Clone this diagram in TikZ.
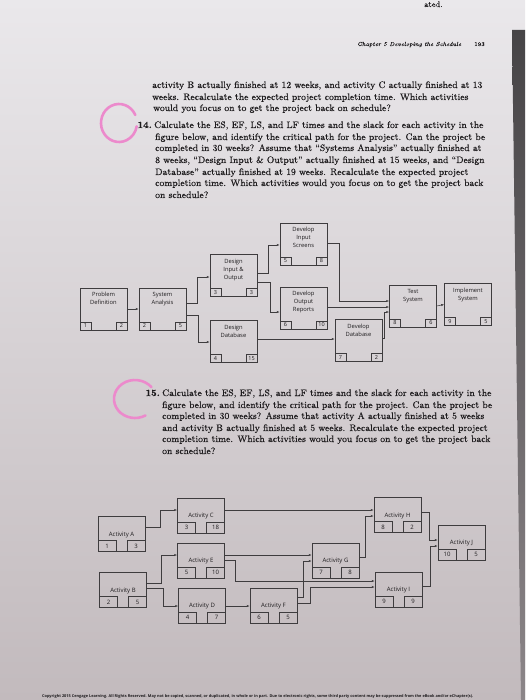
\documentclass[tikz,border=0pt]{standalone}
\usepackage{fontspec}
\usepackage{graphicx}
\usetikzlibrary{arrows.meta,positioning}
\newfontfamily\diagfont{Open Sans}
\newfontfamily\bookfont{Latin Modern Roman}[Ligatures=TeX, FakeBold=0.4]
\definecolor{paperTop}{RGB}{234,232,235}
\definecolor{paperBottom}{RGB}{194,186,189}
\definecolor{inkGray}{RGB}{30,28,30}
\definecolor{lineGray}{RGB}{62,60,62}
\definecolor{markPink}{RGB}{236,138,204}
\definecolor{barTop}{RGB}{70,68,70}
\definecolor{barBottom}{RGB}{140,134,137}
\newcommand{\bodyfont}{\bookfont\fontsize{9.4}{11}\selectfont}
\newcommand{\boxfont}{\diagfont\fontsize{5.8}{8}\selectfont}
\newcommand{\cellfont}{\diagfont\fontsize{5.5}{6}\selectfont}
\tikzset{
  textline/.style={anchor=base west, inner sep=0pt, font=\bodyfont, text=inkGray},
  itemno/.style={anchor=base east, inner sep=0pt, font=\bodyfont\bfseries, text=inkGray},
  wbsbox/.style={draw=lineGray, line width=0.5pt, minimum width=47pt, minimum height=42pt, inner sep=0pt},
  wbstext/.style={anchor=north, inner sep=0pt, align=center, font=\boxfont, text=inkGray},
  wbscell/.style={draw=lineGray, line width=0.5pt, minimum width=11pt, minimum height=8pt, inner sep=0pt, font=\cellfont, text=inkGray},
  actbox/.style={draw=lineGray, line width=0.5pt, minimum width=47pt, minimum height=35pt, inner sep=0pt},
  acttext/.style={inner sep=0pt, font=\diagfont\fontsize{6}{7}\selectfont, text=inkGray},
  actcell/.style={draw=lineGray, line width=0.5pt, minimum width=18pt, minimum height=11pt, inner sep=0pt, font=\diagfont\fontsize{6}{7}\selectfont, text=inkGray},
  link/.style={draw=lineGray, line width=0.5pt, -{Latex[length=3pt,width=2.2pt]}},
  pinkloop/.style={draw=markPink, line width=2.6pt, line cap=round}
}

\begin{document}
\begin{tikzpicture}[x=1pt, y=-1pt]
  \useasboundingbox (0,0) rectangle (525,700);
  % photographed page
  \shade[top color=paperTop, bottom color=paperBottom] (0,0) rectangle (525,700);
  \shade[top color=barTop, bottom color=barBottom] (512,30) -- (525,30) -- (525,700) -- (521,700) -- cycle;

  % running head and text
  \node[textline, font=\bookfont\fontsize{8}{9}\selectfont] (cut) at (424,7) {ated.};
  \node[textline, font=\bookfont\fontsize{5.8}{7}\selectfont\itshape] (head) at (357,46) {Chapter 5 Developing the Schedule};
  \node[textline, font=\bookfont\fontsize{5.8}{7}\selectfont] (page) at (474,46) {193};

  \node[textline] at (152,88) {activity B actually finished at 12 weeks, and activity C actually finished at 13};
  \node[textline] at (152,100) {weeks. Recalculate the expected project completion time. Which activities};
  \node[textline] at (153,111) {would you focus on to get the project back on schedule?};

  \node[itemno] (q14) at (152,128) {14.};
  \node[textline] at (154,128) {Calculate the ES, EF, LS, and LF times and the slack for each activity in the};
  \node[textline] at (155,140) {figure below, and identify the critical path for the project. Can the project be};
  \node[textline] at (155,151) {completed in 30 weeks? Assume that ``Systems Analysis'' actually finished at};
  \node[textline] at (155,163) {8 weeks, ``Design Input \& Output'' actually finished at 15 weeks, and ``Design};
  \node[textline] at (155,175) {Database'' actually finished at 19 weeks. Recalculate the expected project};
  \node[textline] at (155,186) {completion time. Which activities would you focus on to get the project back};
  \node[textline] at (155,198) {on schedule?};

  \node[itemno] (q15) at (160,396) {15.};
  \node[textline] at (162,396) {Calculate the ES, EF, LS, and LF times and the slack for each activity in the};
  \node[textline] at (162,408) {figure below, and identify the critical path for the project. Can the project be};
  \node[textline] at (162,419) {completed in 30 weeks? Assume that activity A actually finished at 5 weeks};
  \node[textline] at (162,431) {and activity B actually finished at 5 weeks. Recalculate the expected project};
  \node[textline] at (162,442) {completion time. Which activities would you focus on to get the project back};
  \node[textline] at (162,454) {on schedule?};

  % pen marks
  \draw[pinkloop] ([shift={(-25:18 and 19)}]119,123) arc[start angle=-25, end angle=-350, x radius=18, y radius=19];
  \draw[pinkloop] ([shift={(-38:21 and 19)}]135,399) arc[start angle=-38, end angle=-300, x radius=21, y radius=19];

  % network for question 14
  \foreach \n/\cx/\cy/\txt/\es/\ef in {
      pd/103.5/309/{Problem\\Definition}/1/2,
      sa/162.5/309/{System\\Analysis}/2/5,
      dio/233.5/275.5/{Design\\Input \&\\Output}/3/3,
      dd/233.5/341.5/{Design\\Database}/4/15,
      dis/303.5/244/{Develop\\Input\\Screens}/5/8,
      dor/303.5/308/{Develop\\Output\\Reports}/6/10,
      ddb/358.5/340.5/{Develop\\Database}/7/2,
      ts/413/306/{Test\\System}/8/6,
      is/468/304.5/{Implement\\System}/9/5} {
    \node[wbsbox] (\n) at (\cx,\cy) {};
    \node[wbstext] (\n-t) at ([yshift=-4.5pt]\n.north) {\txt};
    \node[wbscell, anchor=south west] (\n-l) at (\n.south west) {\es};
    \node[wbscell, anchor=south east] (\n-r) at (\n.south east) {\ef};
  }
  \draw[link] (pd.east) -- (sa.west);
  \draw[link] (sa.east |- 0,303) -- (197,303) |- (dio.west |- 0,277);
  \draw[link] (sa.east |- 0,315) -- (198,315) |- (dd.west |- 0,342);
  \draw[link] (dio.east |- 0,273) -- (268,273) |- (dis.west |- 0,245);
  \draw[link] (dio.east |- 0,282) -- (270,282) |- (dor.west |- 0,312);
  \draw[link] (dd.east |- 0,339) -- (ddb.west |- 0,339);
  \draw[link] (dis.east |- 0,243) -- (339,243) |- (ts.west |- 0,301);
  \draw[link] (dor.east |- 0,307) -- (ts.west |- 0,307);
  \draw[link] (ddb.east |- 0,338) -- (384,338) |- (ts.west |- 0,312);
  \draw[link] (ts.east) -- (is.west);

  % network for question 15
  \foreach \n/\cx/\cy/\ltr/\es/\ef in {
      a/121.5/534/A/1/3, c/201/515.5/C/3/18, e/201/560.5/E/5/10,
      b/123/590/B/2/5, d/202/605.5/D/4/7, f/273.5/605.5/F/6/5,
      g/335.5/560.5/G/7/8, h/397.5/515/H/8/2, i/398.5/589.5/I/9/9,
      j/461.5/542.5/J/10/5} {
    \node[actbox] (\n) at (\cx,\cy) {};
    \node[acttext] (\n-t) at ([yshift=17pt]\n.south) {Activity \ltr};
    \node[actcell, anchor=south west] (\n-l) at (\n.south west) {\es};
    \node[actcell, anchor=south east] (\n-r) at (\n.south east) {\ef};
  }
  \draw[link] (a.east |- 0,527) -- (160,527) |- (c.west |- 0,510);
  \draw[link] (c.east |- 0,510) -- (h.west |- 0,510);
  \draw[link] (b.east |- 0,583) -- (161,583) |- (e.west |- 0,555);
  \draw[link] (b.east |- 0,588) -- (163,588) |- (d.west |- 0,606);
  \draw[link] (e.east |- 0,555) -- (g.west |- 0,555);
  \draw[link] (e.east |- 0,560) -- (235,560) |- (i.west |- 0,581);
  \draw[link] (d.east |- 0,606) -- (f.west |- 0,606);
  \draw[link] (f.east |- 0,597) -- (303,597) |- (g.west |- 0,561);
  \draw[link] (f.east |- 0,603) -- (310,603) |- (i.west |- 0,587);
  \draw[link] (g.east |- 0,557) -- (365,557) |- (h.west |- 0,516);
  \draw[link] (h.east |- 0,512) -- (429,512) |- (j.west |- 0,540);
  \draw[link] (i.east |- 0,586) -- (430,586) |- (j.west |- 0,546);

  % footer
  \node[anchor=base west, inner sep=0pt, text=inkGray, font=\diagfont\bfseries] (foot) at (42,697)
    {\resizebox{431pt}{!}{Copyright 2015 Cengage Learning. All Rights Reserved. May not be copied, scanned, or duplicated, in whole or in part. Due to electronic rights, some third party content may be suppressed from the eBook and/or eChapter(s).}};
\end{tikzpicture}
\end{document}
